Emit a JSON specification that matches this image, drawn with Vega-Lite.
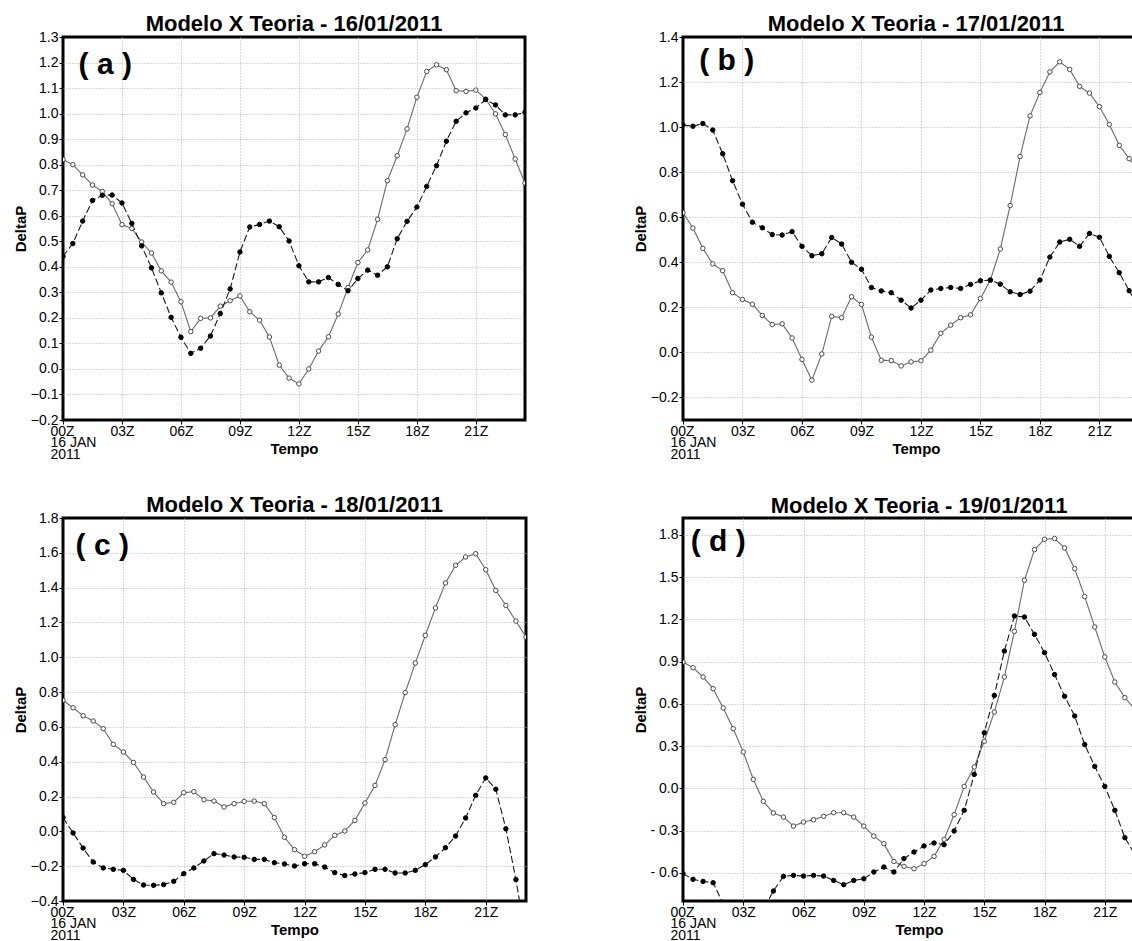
{
  "$schema": "https://vega.github.io/schema/vega-lite/v6.json",
  "padding": {"left": 11, "top": 11, "right": 0, "bottom": 0},
  "background": "white",
  "config": {
    "font": "Liberation Sans",
    "view": {"stroke": "#000", "strokeWidth": 3},
    "axis": {
      "domain": false, "grid": true, "gridColor": "#b0b0b0", "gridDash": [1, 2], "gridWidth": 1,
      "ticks": true, "tickColor": "#000", "tickSize": 4, "tickWidth": 1,
      "labelFont": "Liberation Sans", "labelFontSize": 14, "labelColor": "#000", "labelPadding": 1,
      "labelFlush": false, "labelOverlap": false,
      "titleFont": "Liberation Sans", "titleFontSize": 15, "titleFontWeight": "bold", "titleColor": "#000"
    },
    "title": {"font": "Liberation Sans", "fontSize": 22, "fontWeight": "bold", "color": "#000", "frame": "group", "anchor": "middle", "baseline": "alphabetic", "offset": -6}
  },
  "datasets": {
    "a": [
      {"t":0,"Teoria":0.82,"Modelo":0.441},{"t":0.5,"Teoria":0.80,"Modelo":0.491},{"t":1,"Teoria":0.76,"Modelo":0.579},{"t":1.5,"Teoria":0.72,"Modelo":0.66},
      {"t":2,"Teoria":0.695,"Modelo":0.68},{"t":2.5,"Teoria":0.647,"Modelo":0.681},{"t":3,"Teoria":0.565,"Modelo":0.65},{"t":3.5,"Teoria":0.55,"Modelo":0.57},
      {"t":4,"Teoria":0.497,"Modelo":0.482},{"t":4.5,"Teoria":0.454,"Modelo":0.396},{"t":5,"Teoria":0.384,"Modelo":0.298},{"t":5.5,"Teoria":0.34,"Modelo":0.202},
      {"t":6,"Teoria":0.263,"Modelo":0.124},{"t":6.5,"Teoria":0.146,"Modelo":0.061},{"t":7,"Teoria":0.198,"Modelo":0.081},{"t":7.5,"Teoria":0.20,"Modelo":0.129},
      {"t":8,"Teoria":0.246,"Modelo":0.217},{"t":8.5,"Teoria":0.267,"Modelo":0.313},{"t":9,"Teoria":0.286,"Modelo":0.458},{"t":9.5,"Teoria":0.224,"Modelo":0.556},
      {"t":10,"Teoria":0.191,"Modelo":0.566},{"t":10.5,"Teoria":0.125,"Modelo":0.579},{"t":11,"Teoria":0.015,"Modelo":0.557},{"t":11.5,"Teoria":-0.036,"Modelo":0.501},
      {"t":12,"Teoria":-0.059,"Modelo":0.404},{"t":12.5,"Teoria":0.0,"Modelo":0.341},{"t":13,"Teoria":0.07,"Modelo":0.341},{"t":13.5,"Teoria":0.126,"Modelo":0.358},
      {"t":14,"Teoria":0.215,"Modelo":0.331},{"t":14.5,"Teoria":0.319,"Modelo":0.306},{"t":15,"Teoria":0.417,"Modelo":0.354},{"t":15.5,"Teoria":0.466,"Modelo":0.387},
      {"t":16,"Teoria":0.586,"Modelo":0.367},{"t":16.5,"Teoria":0.737,"Modelo":0.40},{"t":17,"Teoria":0.835,"Modelo":0.51},{"t":17.5,"Teoria":0.94,"Modelo":0.578},
      {"t":18,"Teoria":1.064,"Modelo":0.634},{"t":18.5,"Teoria":1.165,"Modelo":0.715},{"t":19,"Teoria":1.191,"Modelo":0.796},{"t":19.5,"Teoria":1.172,"Modelo":0.892},
      {"t":20,"Teoria":1.09,"Modelo":0.97},{"t":20.5,"Teoria":1.087,"Modelo":1.003},{"t":21,"Teoria":1.092,"Modelo":1.022},{"t":21.5,"Teoria":1.057,"Modelo":1.055},
      {"t":22,"Teoria":0.999,"Modelo":1.034},{"t":22.5,"Teoria":0.918,"Modelo":0.995},{"t":23,"Teoria":0.822,"Modelo":0.995},{"t":23.5,"Teoria":0.728,"Modelo":1.005}
    ],
    "b": [
      {"t":0,"Teoria":0.62,"Modelo":1.009},{"t":0.5,"Teoria":0.552,"Modelo":1.004},{"t":1,"Teoria":0.462,"Modelo":1.016},{"t":1.5,"Teoria":0.393,"Modelo":0.987},
      {"t":2,"Teoria":0.363,"Modelo":0.882},{"t":2.5,"Teoria":0.265,"Modelo":0.762},{"t":3,"Teoria":0.235,"Modelo":0.658},{"t":3.5,"Teoria":0.214,"Modelo":0.578},
      {"t":4,"Teoria":0.164,"Modelo":0.553},{"t":4.5,"Teoria":0.124,"Modelo":0.523},{"t":5,"Teoria":0.127,"Modelo":0.521},{"t":5.5,"Teoria":0.064,"Modelo":0.536},
      {"t":6,"Teoria":-0.031,"Modelo":0.471},{"t":6.5,"Teoria":-0.123,"Modelo":0.429},{"t":7,"Teoria":-0.007,"Modelo":0.438},{"t":7.5,"Teoria":0.16,"Modelo":0.51},
      {"t":8,"Teoria":0.154,"Modelo":0.481},{"t":8.5,"Teoria":0.247,"Modelo":0.40},{"t":9,"Teoria":0.213,"Modelo":0.369},{"t":9.5,"Teoria":0.068,"Modelo":0.288},
      {"t":10,"Teoria":-0.035,"Modelo":0.273},{"t":10.5,"Teoria":-0.036,"Modelo":0.265},{"t":11,"Teoria":-0.06,"Modelo":0.232},{"t":11.5,"Teoria":-0.042,"Modelo":0.197},
      {"t":12,"Teoria":-0.037,"Modelo":0.232},{"t":12.5,"Teoria":0.01,"Modelo":0.277},{"t":13,"Teoria":0.085,"Modelo":0.284},{"t":13.5,"Teoria":0.121,"Modelo":0.288},
      {"t":14,"Teoria":0.154,"Modelo":0.284},{"t":14.5,"Teoria":0.167,"Modelo":0.302},{"t":15,"Teoria":0.239,"Modelo":0.318},{"t":15.5,"Teoria":0.321,"Modelo":0.321},
      {"t":16,"Teoria":0.459,"Modelo":0.303},{"t":16.5,"Teoria":0.652,"Modelo":0.269},{"t":17,"Teoria":0.87,"Modelo":0.257},{"t":17.5,"Teoria":1.05,"Modelo":0.272},
      {"t":18,"Teoria":1.154,"Modelo":0.321},{"t":18.5,"Teoria":1.245,"Modelo":0.423},{"t":19,"Teoria":1.29,"Modelo":0.49},{"t":19.5,"Teoria":1.256,"Modelo":0.502},
      {"t":20,"Teoria":1.181,"Modelo":0.471},{"t":20.5,"Teoria":1.151,"Modelo":0.528},{"t":21,"Teoria":1.091,"Modelo":0.511},{"t":21.5,"Teoria":1.012,"Modelo":0.426},
      {"t":22,"Teoria":0.919,"Modelo":0.354},{"t":22.5,"Teoria":0.86,"Modelo":0.274},{"t":23,"Teoria":0.80,"Modelo":0.20},{"t":23.5,"Teoria":0.74,"Modelo":0.13}
    ],
    "c": [
      {"t":0,"Teoria":0.753,"Modelo":0.079},{"t":0.5,"Teoria":0.71,"Modelo":-0.009},{"t":1,"Teoria":0.664,"Modelo":-0.096},{"t":1.5,"Teoria":0.634,"Modelo":-0.176},
      {"t":2,"Teoria":0.59,"Modelo":-0.21},{"t":2.5,"Teoria":0.50,"Modelo":-0.218},{"t":3,"Teoria":0.456,"Modelo":-0.224},{"t":3.5,"Teoria":0.396,"Modelo":-0.276},
      {"t":4,"Teoria":0.312,"Modelo":-0.308},{"t":4.5,"Teoria":0.226,"Modelo":-0.31},{"t":5,"Teoria":0.159,"Modelo":-0.306},{"t":5.5,"Teoria":0.167,"Modelo":-0.287},
      {"t":6,"Teoria":0.222,"Modelo":-0.243},{"t":6.5,"Teoria":0.228,"Modelo":-0.21},{"t":7,"Teoria":0.182,"Modelo":-0.17},{"t":7.5,"Teoria":0.174,"Modelo":-0.128},
      {"t":8,"Teoria":0.14,"Modelo":-0.136},{"t":8.5,"Teoria":0.159,"Modelo":-0.147},{"t":9,"Teoria":0.172,"Modelo":-0.149},{"t":9.5,"Teoria":0.174,"Modelo":-0.161},
      {"t":10,"Teoria":0.159,"Modelo":-0.161},{"t":10.5,"Teoria":0.079,"Modelo":-0.18},{"t":11,"Teoria":-0.034,"Modelo":-0.187},{"t":11.5,"Teoria":-0.105,"Modelo":-0.199},
      {"t":12,"Teoria":-0.143,"Modelo":-0.186},{"t":12.5,"Teoria":-0.117,"Modelo":-0.186},{"t":13,"Teoria":-0.078,"Modelo":-0.205},{"t":13.5,"Teoria":-0.023,"Modelo":-0.237},
      {"t":14,"Teoria":0.002,"Modelo":-0.254},{"t":14.5,"Teoria":0.063,"Modelo":-0.245},{"t":15,"Teoria":0.163,"Modelo":-0.237},{"t":15.5,"Teoria":0.264,"Modelo":-0.218},
      {"t":16,"Teoria":0.412,"Modelo":-0.218},{"t":16.5,"Teoria":0.613,"Modelo":-0.239},{"t":17,"Teoria":0.797,"Modelo":-0.239},{"t":17.5,"Teoria":0.967,"Modelo":-0.224},
      {"t":18,"Teoria":1.126,"Modelo":-0.191},{"t":18.5,"Teoria":1.283,"Modelo":-0.147},{"t":19,"Teoria":1.427,"Modelo":-0.094},{"t":19.5,"Teoria":1.528,"Modelo":-0.027},
      {"t":20,"Teoria":1.576,"Modelo":0.077},{"t":20.5,"Teoria":1.595,"Modelo":0.207},{"t":21,"Teoria":1.503,"Modelo":0.307},{"t":21.5,"Teoria":1.384,"Modelo":0.242},
      {"t":22,"Teoria":1.298,"Modelo":0.015},{"t":22.5,"Teoria":1.208,"Modelo":-0.277},{"t":23,"Teoria":1.116,"Modelo":-0.62}
    ],
    "d": [
      {"t":0,"Teoria":0.897,"Modelo":-0.606},{"t":0.5,"Teoria":0.857,"Modelo":-0.646},{"t":1,"Teoria":0.791,"Modelo":-0.661},{"t":1.5,"Teoria":0.708,"Modelo":-0.67},
      {"t":2,"Teoria":0.571,"Modelo":-0.82},{"t":2.5,"Teoria":0.424,"Modelo":-0.95},{"t":3,"Teoria":0.258,"Modelo":-1.0},{"t":3.5,"Teoria":0.064,"Modelo":-0.97},
      {"t":4,"Teoria":-0.092,"Modelo":-0.86},{"t":4.5,"Teoria":-0.175,"Modelo":-0.729},{"t":5,"Teoria":-0.204,"Modelo":-0.625},{"t":5.5,"Teoria":-0.268,"Modelo":-0.618},
      {"t":6,"Teoria":-0.239,"Modelo":-0.623},{"t":6.5,"Teoria":-0.223,"Modelo":-0.618},{"t":7,"Teoria":-0.199,"Modelo":-0.623},{"t":7.5,"Teoria":-0.173,"Modelo":-0.654},
      {"t":8,"Teoria":-0.173,"Modelo":-0.684},{"t":8.5,"Teoria":-0.204,"Modelo":-0.654},{"t":9,"Teoria":-0.268,"Modelo":-0.642},{"t":9.5,"Teoria":-0.339,"Modelo":-0.594},
      {"t":10,"Teoria":-0.393,"Modelo":-0.559},{"t":10.5,"Teoria":-0.519,"Modelo":-0.594},{"t":11,"Teoria":-0.554,"Modelo":-0.499},{"t":11.5,"Teoria":-0.571,"Modelo":-0.452},
      {"t":12,"Teoria":-0.535,"Modelo":-0.409},{"t":12.5,"Teoria":-0.483,"Modelo":-0.388},{"t":13,"Teoria":-0.362,"Modelo":-0.40},{"t":13.5,"Teoria":-0.187,"Modelo":-0.303},
      {"t":14,"Teoria":0.014,"Modelo":-0.156},{"t":14.5,"Teoria":0.152,"Modelo":0.099},{"t":15,"Teoria":0.334,"Modelo":0.395},{"t":15.5,"Teoria":0.542,"Modelo":0.66},
      {"t":16,"Teoria":0.791,"Modelo":0.975},{"t":16.5,"Teoria":1.115,"Modelo":1.224},{"t":17,"Teoria":1.478,"Modelo":1.217},{"t":17.5,"Teoria":1.695,"Modelo":1.094},
      {"t":18,"Teoria":1.769,"Modelo":0.964},{"t":18.5,"Teoria":1.774,"Modelo":0.808},{"t":19,"Teoria":1.707,"Modelo":0.654},{"t":19.5,"Teoria":1.561,"Modelo":0.514},
      {"t":20,"Teoria":1.362,"Modelo":0.311},{"t":20.5,"Teoria":1.146,"Modelo":0.156},{"t":21,"Teoria":0.933,"Modelo":0.014},{"t":21.5,"Teoria":0.755,"Modelo":-0.156},
      {"t":22,"Teoria":0.644,"Modelo":-0.35},{"t":22.5,"Teoria":0.56,"Modelo":-0.47},{"t":23,"Teoria":0.48,"Modelo":-0.59},{"t":23.5,"Teoria":0.40,"Modelo":-0.71}
    ]
  },
  "columns": 2,
  "spacing": {"row": 29, "column": 103},
  "concat": [
    {
      "width": 462, "height": 383,
      "title": {"text": "Modelo X Teoria - 16/01/2011"},
      "layer": [
        {"data": {"name": "a"}, "transform": [{"fold": ["Teoria", "Modelo"], "as": ["s", "v"]}],
         "mark": {"type": "line", "strokeWidth": 1.1, "clip": true},
         "encoding": {
           "x": {"field": "t", "type": "quantitative", "title": "Tempo", "scale": {"domain": [0, 23.5], "nice": false, "zero": false},
             "axis": {"values": [0, 3, 6, 9, 12, 15, 18, 21], "labelExpr": "datum.value == 0 ? ['00Z','16 JAN','2011'] : (datum.value < 10 ? '0' : '') + datum.value + 'Z'", "labelAlign": {"condition": {"test": "datum.value == 0", "value": "left"}, "value": "center"}, "labelOffset": {"condition": {"test": "datum.value == 0", "value": -13}, "value": 0}, "gridOpacity": {"condition": {"test": "datum.value == 0", "value": 0}, "value": 1}, "labelOverlap": false, "labelLineHeight": 11.5, "labelPadding": 0, "titleY": 21, "titleBaseline": "top"}},
           "y": {"field": "v", "type": "quantitative", "title": "DeltaP", "scale": {"domain": [-0.2, 1.3], "nice": false, "zero": false},
             "axis": {"values": [-0.2, -0.1, 0, 0.1, 0.2, 0.3, 0.4, 0.5, 0.6, 0.7, 0.8, 0.9, 1.0, 1.1, 1.2, 1.3], "format": ".1f", "labelOverlap": false, "titleX": -38, "titleBaseline": "alphabetic", "gridOpacity": {"condition": {"test": "datum.value == -0.2 || datum.value == 1.3", "value": 0}, "value": 1}}},
           "color": {"field": "s", "type": "nominal", "scale": {"domain": ["Modelo", "Teoria"], "range": ["#1a1a1a", "#6a6a6a"]}, "legend": null},
           "strokeDash": {"field": "s", "type": "nominal", "scale": {"domain": ["Modelo", "Teoria"], "range": [[7, 3], [1, 0]]}, "legend": null}}},
        {"data": {"name": "a"}, "transform": [{"fold": ["Teoria", "Modelo"], "as": ["s", "v"]}],
         "mark": {"type": "circle", "size": 20, "strokeWidth": 1, "opacity": 1, "clip": true},
         "encoding": {
           "x": {"field": "t", "type": "quantitative", "title": "Tempo", "scale": {"domain": [0, 23.5], "nice": false, "zero": false},
             "axis": {"values": [0, 3, 6, 9, 12, 15, 18, 21], "labelExpr": "datum.value == 0 ? ['00Z','16 JAN','2011'] : (datum.value < 10 ? '0' : '') + datum.value + 'Z'", "labelAlign": {"condition": {"test": "datum.value == 0", "value": "left"}, "value": "center"}, "labelOffset": {"condition": {"test": "datum.value == 0", "value": -13}, "value": 0}, "gridOpacity": {"condition": {"test": "datum.value == 0", "value": 0}, "value": 1}, "labelOverlap": false, "labelLineHeight": 11.5, "labelPadding": 0, "titleY": 21, "titleBaseline": "top"}},
           "y": {"field": "v", "type": "quantitative", "title": "DeltaP", "scale": {"domain": [-0.2, 1.3], "nice": false, "zero": false},
             "axis": {"values": [-0.2, -0.1, 0, 0.1, 0.2, 0.3, 0.4, 0.5, 0.6, 0.7, 0.8, 0.9, 1.0, 1.1, 1.2, 1.3], "format": ".1f", "labelOverlap": false, "titleX": -38, "titleBaseline": "alphabetic", "gridOpacity": {"condition": {"test": "datum.value == -0.2 || datum.value == 1.3", "value": 0}, "value": 1}}},
           "fill": {"field": "s", "type": "nominal", "scale": {"domain": ["Modelo", "Teoria"], "range": ["#000000", "#ffffff"]}, "legend": null},
           "stroke": {"field": "s", "type": "nominal", "scale": {"domain": ["Modelo", "Teoria"], "range": ["#000000", "#4a4a4a"]}, "legend": null}}},
        {"data": {"values": [{"label": "( a )"}]},
         "mark": {"type": "text", "font": "Liberation Sans", "fontSize": 30, "fontWeight": "bold", "color": "#000", "align": "center", "baseline": "middle"},
         "encoding": {
           "x": {"datum": 2.15, "type": "quantitative", "title": "Tempo", "scale": {"domain": [0, 23.5], "nice": false, "zero": false},
             "axis": {"values": [0, 3, 6, 9, 12, 15, 18, 21], "labelExpr": "datum.value == 0 ? ['00Z','16 JAN','2011'] : (datum.value < 10 ? '0' : '') + datum.value + 'Z'", "labelAlign": {"condition": {"test": "datum.value == 0", "value": "left"}, "value": "center"}, "labelOffset": {"condition": {"test": "datum.value == 0", "value": -13}, "value": 0}, "gridOpacity": {"condition": {"test": "datum.value == 0", "value": 0}, "value": 1}, "labelOverlap": false, "labelLineHeight": 11.5, "labelPadding": 0, "titleY": 21, "titleBaseline": "top"}},
           "y": {"datum": 1.19, "type": "quantitative", "title": "DeltaP", "scale": {"domain": [-0.2, 1.3], "nice": false, "zero": false},
             "axis": {"values": [-0.2, -0.1, 0, 0.1, 0.2, 0.3, 0.4, 0.5, 0.6, 0.7, 0.8, 0.9, 1.0, 1.1, 1.2, 1.3], "format": ".1f", "labelOverlap": false, "titleX": -38, "titleBaseline": "alphabetic", "gridOpacity": {"condition": {"test": "datum.value == -0.2 || datum.value == 1.3", "value": 0}, "value": 1}}},
           "text": {"field": "label", "type": "nominal"}}}
      ]
    },
    {
      "width": 466, "height": 383,
      "title": {"text": "Modelo X Teoria - 17/01/2011"},
      "layer": [
        {"data": {"name": "b"}, "transform": [{"fold": ["Teoria", "Modelo"], "as": ["s", "v"]}],
         "mark": {"type": "line", "strokeWidth": 1.1, "clip": true},
         "encoding": {
           "x": {"field": "t", "type": "quantitative", "title": "Tempo", "scale": {"domain": [0, 23.5], "nice": false, "zero": false},
             "axis": {"values": [0, 3, 6, 9, 12, 15, 18, 21], "labelExpr": "datum.value == 0 ? ['00Z','16 JAN','2011'] : (datum.value < 10 ? '0' : '') + datum.value + 'Z'", "labelAlign": {"condition": {"test": "datum.value == 0", "value": "left"}, "value": "center"}, "labelOffset": {"condition": {"test": "datum.value == 0", "value": -13}, "value": 0}, "gridOpacity": {"condition": {"test": "datum.value == 0", "value": 0}, "value": 1}, "labelOverlap": false, "labelLineHeight": 11.5, "labelPadding": 0, "titleY": 21, "titleBaseline": "top"}},
           "y": {"field": "v", "type": "quantitative", "title": "DeltaP", "scale": {"domain": [-0.3, 1.4], "nice": false, "zero": false},
             "axis": {"values": [-0.2, 0, 0.2, 0.4, 0.6, 0.8, 1.0, 1.2, 1.4], "format": ".1f", "labelOverlap": false, "titleX": -38, "titleBaseline": "alphabetic", "gridOpacity": {"condition": {"test": "datum.value == 1.4", "value": 0}, "value": 1}}},
           "color": {"field": "s", "type": "nominal", "scale": {"domain": ["Modelo", "Teoria"], "range": ["#1a1a1a", "#6a6a6a"]}, "legend": null},
           "strokeDash": {"field": "s", "type": "nominal", "scale": {"domain": ["Modelo", "Teoria"], "range": [[7, 3], [1, 0]]}, "legend": null}}},
        {"data": {"name": "b"}, "transform": [{"fold": ["Teoria", "Modelo"], "as": ["s", "v"]}],
         "mark": {"type": "circle", "size": 20, "strokeWidth": 1, "opacity": 1, "clip": true},
         "encoding": {
           "x": {"field": "t", "type": "quantitative", "title": "Tempo", "scale": {"domain": [0, 23.5], "nice": false, "zero": false},
             "axis": {"values": [0, 3, 6, 9, 12, 15, 18, 21], "labelExpr": "datum.value == 0 ? ['00Z','16 JAN','2011'] : (datum.value < 10 ? '0' : '') + datum.value + 'Z'", "labelAlign": {"condition": {"test": "datum.value == 0", "value": "left"}, "value": "center"}, "labelOffset": {"condition": {"test": "datum.value == 0", "value": -13}, "value": 0}, "gridOpacity": {"condition": {"test": "datum.value == 0", "value": 0}, "value": 1}, "labelOverlap": false, "labelLineHeight": 11.5, "labelPadding": 0, "titleY": 21, "titleBaseline": "top"}},
           "y": {"field": "v", "type": "quantitative", "title": "DeltaP", "scale": {"domain": [-0.3, 1.4], "nice": false, "zero": false},
             "axis": {"values": [-0.2, 0, 0.2, 0.4, 0.6, 0.8, 1.0, 1.2, 1.4], "format": ".1f", "labelOverlap": false, "titleX": -38, "titleBaseline": "alphabetic", "gridOpacity": {"condition": {"test": "datum.value == 1.4", "value": 0}, "value": 1}}},
           "fill": {"field": "s", "type": "nominal", "scale": {"domain": ["Modelo", "Teoria"], "range": ["#000000", "#ffffff"]}, "legend": null},
           "stroke": {"field": "s", "type": "nominal", "scale": {"domain": ["Modelo", "Teoria"], "range": ["#000000", "#4a4a4a"]}, "legend": null}}},
        {"data": {"values": [{"label": "( b )"}]},
         "mark": {"type": "text", "font": "Liberation Sans", "fontSize": 30, "fontWeight": "bold", "color": "#000", "align": "center", "baseline": "middle"},
         "encoding": {
           "x": {"datum": 2.2, "type": "quantitative", "title": "Tempo", "scale": {"domain": [0, 23.5], "nice": false, "zero": false},
             "axis": {"values": [0, 3, 6, 9, 12, 15, 18, 21], "labelExpr": "datum.value == 0 ? ['00Z','16 JAN','2011'] : (datum.value < 10 ? '0' : '') + datum.value + 'Z'", "labelAlign": {"condition": {"test": "datum.value == 0", "value": "left"}, "value": "center"}, "labelOffset": {"condition": {"test": "datum.value == 0", "value": -13}, "value": 0}, "gridOpacity": {"condition": {"test": "datum.value == 0", "value": 0}, "value": 1}, "labelOverlap": false, "labelLineHeight": 11.5, "labelPadding": 0, "titleY": 21, "titleBaseline": "top"}},
           "y": {"datum": 1.295, "type": "quantitative", "title": "DeltaP", "scale": {"domain": [-0.3, 1.4], "nice": false, "zero": false},
             "axis": {"values": [-0.2, 0, 0.2, 0.4, 0.6, 0.8, 1.0, 1.2, 1.4], "format": ".1f", "labelOverlap": false, "titleX": -38, "titleBaseline": "alphabetic", "gridOpacity": {"condition": {"test": "datum.value == 1.4", "value": 0}, "value": 1}}},
           "text": {"field": "label", "type": "nominal"}}}
      ]
    },
    {
      "width": 463, "height": 383,
      "title": {"text": "Modelo X Teoria - 18/01/2011"},
      "layer": [
        {"data": {"name": "c"}, "transform": [{"fold": ["Teoria", "Modelo"], "as": ["s", "v"]}],
         "mark": {"type": "line", "strokeWidth": 1.1, "clip": true},
         "encoding": {
           "x": {"field": "t", "type": "quantitative", "title": "Tempo", "scale": {"domain": [0, 23], "nice": false, "zero": false},
             "axis": {"values": [0, 3, 6, 9, 12, 15, 18, 21], "labelExpr": "datum.value == 0 ? ['00Z','16 JAN','2011'] : (datum.value < 10 ? '0' : '') + datum.value + 'Z'", "labelAlign": {"condition": {"test": "datum.value == 0", "value": "left"}, "value": "center"}, "labelOffset": {"condition": {"test": "datum.value == 0", "value": -13}, "value": 0}, "gridOpacity": {"condition": {"test": "datum.value == 0", "value": 0}, "value": 1}, "labelOverlap": false, "labelLineHeight": 11.5, "labelPadding": 0, "titleY": 21, "titleBaseline": "top"}},
           "y": {"field": "v", "type": "quantitative", "title": "DeltaP", "scale": {"domain": [-0.4, 1.8], "nice": false, "zero": false},
             "axis": {"values": [-0.4, -0.2, 0, 0.2, 0.4, 0.6, 0.8, 1.0, 1.2, 1.4, 1.6, 1.8], "format": ".1f", "labelOverlap": false, "titleX": -38, "titleBaseline": "alphabetic", "gridOpacity": {"condition": {"test": "datum.value == -0.4 || datum.value == 1.8", "value": 0}, "value": 1}}},
           "color": {"field": "s", "type": "nominal", "scale": {"domain": ["Modelo", "Teoria"], "range": ["#1a1a1a", "#6a6a6a"]}, "legend": null},
           "strokeDash": {"field": "s", "type": "nominal", "scale": {"domain": ["Modelo", "Teoria"], "range": [[7, 3], [1, 0]]}, "legend": null}}},
        {"data": {"name": "c"}, "transform": [{"fold": ["Teoria", "Modelo"], "as": ["s", "v"]}],
         "mark": {"type": "circle", "size": 20, "strokeWidth": 1, "opacity": 1, "clip": true},
         "encoding": {
           "x": {"field": "t", "type": "quantitative", "title": "Tempo", "scale": {"domain": [0, 23], "nice": false, "zero": false},
             "axis": {"values": [0, 3, 6, 9, 12, 15, 18, 21], "labelExpr": "datum.value == 0 ? ['00Z','16 JAN','2011'] : (datum.value < 10 ? '0' : '') + datum.value + 'Z'", "labelAlign": {"condition": {"test": "datum.value == 0", "value": "left"}, "value": "center"}, "labelOffset": {"condition": {"test": "datum.value == 0", "value": -13}, "value": 0}, "gridOpacity": {"condition": {"test": "datum.value == 0", "value": 0}, "value": 1}, "labelOverlap": false, "labelLineHeight": 11.5, "labelPadding": 0, "titleY": 21, "titleBaseline": "top"}},
           "y": {"field": "v", "type": "quantitative", "title": "DeltaP", "scale": {"domain": [-0.4, 1.8], "nice": false, "zero": false},
             "axis": {"values": [-0.4, -0.2, 0, 0.2, 0.4, 0.6, 0.8, 1.0, 1.2, 1.4, 1.6, 1.8], "format": ".1f", "labelOverlap": false, "titleX": -38, "titleBaseline": "alphabetic", "gridOpacity": {"condition": {"test": "datum.value == -0.4 || datum.value == 1.8", "value": 0}, "value": 1}}},
           "fill": {"field": "s", "type": "nominal", "scale": {"domain": ["Modelo", "Teoria"], "range": ["#000000", "#ffffff"]}, "legend": null},
           "stroke": {"field": "s", "type": "nominal", "scale": {"domain": ["Modelo", "Teoria"], "range": ["#000000", "#4a4a4a"]}, "legend": null}}},
        {"data": {"values": [{"label": "( c )"}]},
         "mark": {"type": "text", "font": "Liberation Sans", "fontSize": 30, "fontWeight": "bold", "color": "#000", "align": "center", "baseline": "middle"},
         "encoding": {
           "x": {"datum": 1.95, "type": "quantitative", "title": "Tempo", "scale": {"domain": [0, 23], "nice": false, "zero": false},
             "axis": {"values": [0, 3, 6, 9, 12, 15, 18, 21], "labelExpr": "datum.value == 0 ? ['00Z','16 JAN','2011'] : (datum.value < 10 ? '0' : '') + datum.value + 'Z'", "labelAlign": {"condition": {"test": "datum.value == 0", "value": "left"}, "value": "center"}, "labelOffset": {"condition": {"test": "datum.value == 0", "value": -13}, "value": 0}, "gridOpacity": {"condition": {"test": "datum.value == 0", "value": 0}, "value": 1}, "labelOverlap": false, "labelLineHeight": 11.5, "labelPadding": 0, "titleY": 21, "titleBaseline": "top"}},
           "y": {"datum": 1.64, "type": "quantitative", "title": "DeltaP", "scale": {"domain": [-0.4, 1.8], "nice": false, "zero": false},
             "axis": {"values": [-0.4, -0.2, 0, 0.2, 0.4, 0.6, 0.8, 1.0, 1.2, 1.4, 1.6, 1.8], "format": ".1f", "labelOverlap": false, "titleX": -38, "titleBaseline": "alphabetic", "gridOpacity": {"condition": {"test": "datum.value == -0.4 || datum.value == 1.8", "value": 0}, "value": 1}}},
           "text": {"field": "label", "type": "nominal"}}}
      ]
    },
    {
      "width": 472, "height": 383,
      "title": {"text": "Modelo X Teoria - 19/01/2011", "offset": 0},
      "layer": [
        {"data": {"name": "d"}, "transform": [{"fold": ["Teoria", "Modelo"], "as": ["s", "v"]}],
         "mark": {"type": "line", "strokeWidth": 1.1, "clip": true},
         "encoding": {
           "x": {"field": "t", "type": "quantitative", "title": "Tempo", "scale": {"domain": [0, 23.5], "nice": false, "zero": false},
             "axis": {"values": [0, 3, 6, 9, 12, 15, 18, 21], "labelExpr": "datum.value == 0 ? ['00Z','16 JAN','2011'] : (datum.value < 10 ? '0' : '') + datum.value + 'Z'", "labelAlign": {"condition": {"test": "datum.value == 0", "value": "left"}, "value": "center"}, "labelOffset": {"condition": {"test": "datum.value == 0", "value": -13}, "value": 0}, "gridOpacity": {"condition": {"test": "datum.value == 0", "value": 0}, "value": 1}, "labelOverlap": false, "labelLineHeight": 11.5, "labelPadding": 0, "titleY": 21, "titleBaseline": "top"}},
           "y": {"field": "v", "type": "quantitative", "title": "DeltaP", "scale": {"domain": [-0.8, 1.92], "nice": false, "zero": false},
             "axis": {"values": [-0.6, -0.3, 0, 0.3, 0.6, 0.9, 1.2, 1.5, 1.8], "labelExpr": "datum.value < 0 ? '- ' + format(-datum.value, '.1f') : format(datum.value, '.1f')", "labelOverlap": false, "titleX": -38, "titleBaseline": "alphabetic"}},
           "color": {"field": "s", "type": "nominal", "scale": {"domain": ["Modelo", "Teoria"], "range": ["#1a1a1a", "#6a6a6a"]}, "legend": null},
           "strokeDash": {"field": "s", "type": "nominal", "scale": {"domain": ["Modelo", "Teoria"], "range": [[7, 3], [1, 0]]}, "legend": null}}},
        {"data": {"name": "d"}, "transform": [{"fold": ["Teoria", "Modelo"], "as": ["s", "v"]}],
         "mark": {"type": "circle", "size": 20, "strokeWidth": 1, "opacity": 1, "clip": true},
         "encoding": {
           "x": {"field": "t", "type": "quantitative", "title": "Tempo", "scale": {"domain": [0, 23.5], "nice": false, "zero": false},
             "axis": {"values": [0, 3, 6, 9, 12, 15, 18, 21], "labelExpr": "datum.value == 0 ? ['00Z','16 JAN','2011'] : (datum.value < 10 ? '0' : '') + datum.value + 'Z'", "labelAlign": {"condition": {"test": "datum.value == 0", "value": "left"}, "value": "center"}, "labelOffset": {"condition": {"test": "datum.value == 0", "value": -13}, "value": 0}, "gridOpacity": {"condition": {"test": "datum.value == 0", "value": 0}, "value": 1}, "labelOverlap": false, "labelLineHeight": 11.5, "labelPadding": 0, "titleY": 21, "titleBaseline": "top"}},
           "y": {"field": "v", "type": "quantitative", "title": "DeltaP", "scale": {"domain": [-0.8, 1.92], "nice": false, "zero": false},
             "axis": {"values": [-0.6, -0.3, 0, 0.3, 0.6, 0.9, 1.2, 1.5, 1.8], "labelExpr": "datum.value < 0 ? '- ' + format(-datum.value, '.1f') : format(datum.value, '.1f')", "labelOverlap": false, "titleX": -38, "titleBaseline": "alphabetic"}},
           "fill": {"field": "s", "type": "nominal", "scale": {"domain": ["Modelo", "Teoria"], "range": ["#000000", "#ffffff"]}, "legend": null},
           "stroke": {"field": "s", "type": "nominal", "scale": {"domain": ["Modelo", "Teoria"], "range": ["#000000", "#4a4a4a"]}, "legend": null}}},
        {"data": {"values": [{"label": "( d )"}]},
         "mark": {"type": "text", "font": "Liberation Sans", "fontSize": 30, "fontWeight": "bold", "color": "#000", "align": "center", "baseline": "middle"},
         "encoding": {
           "x": {"datum": 1.75, "type": "quantitative", "title": "Tempo", "scale": {"domain": [0, 23.5], "nice": false, "zero": false},
             "axis": {"values": [0, 3, 6, 9, 12, 15, 18, 21], "labelExpr": "datum.value == 0 ? ['00Z','16 JAN','2011'] : (datum.value < 10 ? '0' : '') + datum.value + 'Z'", "labelAlign": {"condition": {"test": "datum.value == 0", "value": "left"}, "value": "center"}, "labelOffset": {"condition": {"test": "datum.value == 0", "value": -13}, "value": 0}, "gridOpacity": {"condition": {"test": "datum.value == 0", "value": 0}, "value": 1}, "labelOverlap": false, "labelLineHeight": 11.5, "labelPadding": 0, "titleY": 21, "titleBaseline": "top"}},
           "y": {"datum": 1.75, "type": "quantitative", "title": "DeltaP", "scale": {"domain": [-0.8, 1.92], "nice": false, "zero": false},
             "axis": {"values": [-0.6, -0.3, 0, 0.3, 0.6, 0.9, 1.2, 1.5, 1.8], "labelExpr": "datum.value < 0 ? '- ' + format(-datum.value, '.1f') : format(datum.value, '.1f')", "labelOverlap": false, "titleX": -38, "titleBaseline": "alphabetic"}},
           "text": {"field": "label", "type": "nominal"}}}
      ]
    }
  ]
}
